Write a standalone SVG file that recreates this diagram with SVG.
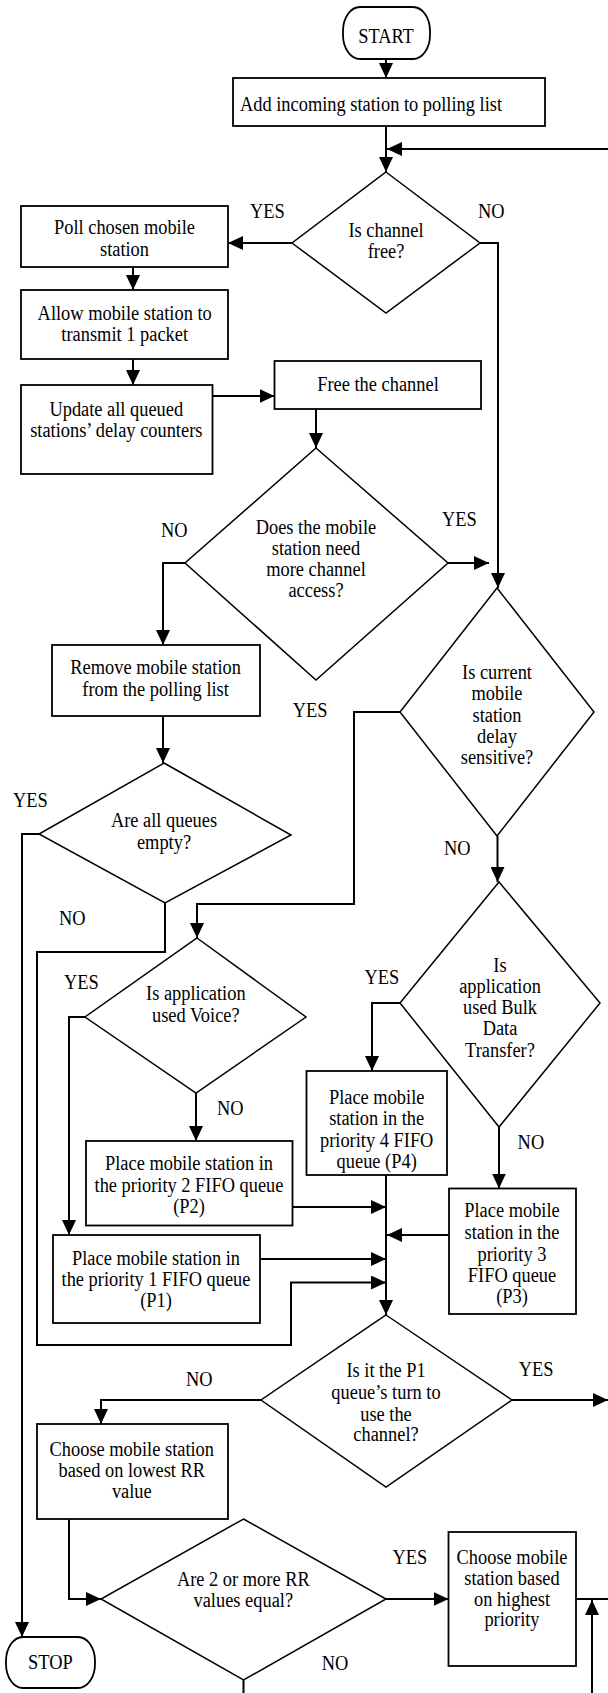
<svg xmlns="http://www.w3.org/2000/svg" width="608" height="1693" viewBox="0 0 608 1693">
<style>
.t,.l{font-family:"Liberation Serif","Times New Roman",serif;font-size:18.4px;fill:#000;transform:scaleY(1.1);transform-box:fill-box;transform-origin:center}
.t{text-anchor:middle}
.b{fill:#fff;stroke:#000;stroke-width:1.8}
.d{fill:#fff;stroke:#000;stroke-width:1.5}
.c{fill:none;stroke:#000;stroke-width:2}
.a{marker-end:url(#ah)}
</style>
<defs>
<marker id="ah" markerUnits="userSpaceOnUse" markerWidth="15" markerHeight="14" refX="15" refY="7" orient="auto">
<path d="M0,0 L15,7 L0,14 z" fill="#000"/>
</marker>
</defs>
<rect width="608" height="1693" fill="#fff"/>
<g id="connectors">
<path class="c a" d="M386,59 V78"/>
<path class="c a" d="M386,126 V172"/>
<path class="c a" d="M608,149 H387"/>
<path class="c a" d="M292,243 H228"/>
<path class="c a" d="M480,243 H498 V588"/>
<path class="c a" d="M133,267 V290"/>
<path class="c a" d="M133,359 V385"/>
<path class="c a" d="M212.5,396 H274.5"/>
<path class="c a" d="M316,409 V448"/>
<path class="c a" d="M185,563 H163 V645"/>
<path class="c a" d="M448,563 H489"/>
<path class="c a" d="M163,716 V763"/>
<path class="c a" d="M39,834 H22 V1637"/>
<path class="c a" d="M165,903 V952 H37 V1345 H291 V1282.5 H386"/>
<path class="c a" d="M400,712 H354 V904 H197 V938"/>
<path class="c a" d="M497.5,836 V882"/>
<path class="c a" d="M85,1017 H69 V1235"/>
<path class="c a" d="M196,1093 V1141"/>
<path class="c a" d="M400,1003 H372 V1071"/>
<path class="c a" d="M499,1127 V1188.5"/>
<path class="c a" d="M386,1175 V1315"/>
<path class="c a" d="M292.5,1207 H386"/>
<path class="c a" d="M449,1235 H387"/>
<path class="c a" d="M260,1259 H386"/>
<path class="c a" d="M512,1400 H608"/>
<path class="c a" d="M261,1400 H101 V1424"/>
<path class="c a" d="M69,1519 V1599 H101"/>
<path class="c a" d="M386,1599 H448.5"/>
<path class="c" d="M576,1599 H608"/>
<path class="c a" d="M592,1693 V1600"/>
<path class="c" d="M243.5,1680 V1693"/>
</g>
<g id="start">
<rect class="b" x="343" y="7" width="87" height="52" rx="17" ry="24"/>
<text class="t" x="386" y="42">START</text>
</g>
<g id="add">
<rect class="b" x="233" y="78" width="312" height="48"/>
<text class="l" x="240" y="110.5">Add incoming station to polling list</text>
</g>
<g id="channel-free">
<polygon class="d" points="386,172 480,243 386,313 292,243"/>
<text class="t" x="386" y="236">Is channel</text>
<text class="t" x="386" y="257.5">free?</text>
</g>
<g id="poll">
<rect class="b" x="21" y="206" width="207" height="61"/>
<text class="t" x="124.5" y="233.3">Poll chosen mobile</text>
<text class="t" x="124.5" y="255">station</text>
</g>
<g id="allow">
<rect class="b" x="21" y="290" width="207" height="69"/>
<text class="t" x="124.7" y="319">Allow mobile station to</text>
<text class="t" x="124.7" y="340.7">transmit 1 packet</text>
</g>
<g id="update">
<rect class="b" x="21" y="385" width="191.5" height="89"/>
<text class="t" x="116.3" y="415">Update all queued</text>
<text class="t" x="116.3" y="436.7">stations’ delay counters</text>
</g>
<g id="free">
<rect class="b" x="274.5" y="361" width="206.5" height="48"/>
<text class="t" x="378" y="390.7">Free the channel</text>
</g>
<g id="need-access">
<polygon class="d" points="316,448 448,563 316,680 185,563"/>
<text class="t" x="316" y="533.3">Does the mobile</text>
<text class="t" x="316" y="554.5">station need</text>
<text class="t" x="316" y="575.5">more channel</text>
<text class="t" x="316" y="596.7">access?</text>
</g>
<g id="remove">
<rect class="b" x="52" y="645" width="208" height="71"/>
<text class="t" x="155.6" y="673.3">Remove mobile station</text>
<text class="t" x="155.6" y="695">from the polling list</text>
</g>
<g id="queues-empty">
<polygon class="d" points="164,763 291,835 165,903 39,834"/>
<text class="t" x="164" y="826.7">Are all queues</text>
<text class="t" x="164" y="848.3">empty?</text>
</g>
<g id="delay-sensitive">
<polygon class="d" points="497,588 594,712 497,836 400,712"/>
<text class="t" x="497" y="678.3">Is current</text>
<text class="t" x="497" y="699.5">mobile</text>
<text class="t" x="497" y="721">station</text>
<text class="t" x="497" y="742.5">delay</text>
<text class="t" x="497" y="763.3">sensitive?</text>
</g>
<g id="voice">
<polygon class="d" points="197,938 306,1017 196,1093 85,1017"/>
<text class="t" x="195.8" y="999.3">Is application</text>
<text class="t" x="195.8" y="1021">used Voice?</text>
</g>
<g id="bulk">
<polygon class="d" points="499,882 600,1003 499,1127 400,1003"/>
<text class="t" x="500" y="971">Is</text>
<text class="t" x="500" y="992.5">application</text>
<text class="t" x="500" y="1013.5">used Bulk</text>
<text class="t" x="500" y="1034.5">Data</text>
<text class="t" x="500" y="1056">Transfer?</text>
</g>
<g id="p4">
<rect class="b" x="306.5" y="1071" width="140.5" height="104"/>
<text class="t" x="376.7" y="1103.3">Place mobile</text>
<text class="t" x="376.7" y="1124.5">station in the</text>
<text class="t" x="376.7" y="1146.5">priority 4 FIFO</text>
<text class="t" x="376.7" y="1167.5">queue (P4)</text>
</g>
<g id="p2">
<rect class="b" x="86" y="1141" width="206.5" height="84.5"/>
<text class="t" x="189" y="1169.3">Place mobile station in</text>
<text class="t" x="189" y="1191">the priority 2 FIFO queue</text>
<text class="t" x="189" y="1212.7">(P2)</text>
</g>
<g id="p1">
<rect class="b" x="53" y="1235" width="207" height="88"/>
<text class="t" x="156" y="1264">Place mobile station in</text>
<text class="t" x="156" y="1285.7">the priority 1 FIFO queue</text>
<text class="t" x="156" y="1306.7">(P1)</text>
</g>
<g id="p3">
<rect class="b" x="449" y="1188.5" width="127" height="125.5"/>
<text class="t" x="512" y="1216.7">Place mobile</text>
<text class="t" x="512" y="1238.3">station in the</text>
<text class="t" x="512" y="1260">priority 3</text>
<text class="t" x="512" y="1281">FIFO queue</text>
<text class="t" x="512" y="1302.7">(P3)</text>
</g>
<g id="p1-turn">
<polygon class="d" points="386,1315 512,1400 386,1487 261,1400"/>
<text class="t" x="386" y="1376.7">Is it the P1</text>
<text class="t" x="386" y="1398.3">queue’s turn to</text>
<text class="t" x="386" y="1420">use the</text>
<text class="t" x="386" y="1440.7">channel?</text>
</g>
<g id="lowest-rr">
<rect class="b" x="37" y="1424" width="191" height="95"/>
<text class="t" x="131.8" y="1455">Choose mobile station</text>
<text class="t" x="131.8" y="1476">based on lowest RR</text>
<text class="t" x="131.8" y="1497.3">value</text>
</g>
<g id="rr-equal">
<polygon class="d" points="243.5,1519 386,1599 243.5,1680 101,1599"/>
<text class="t" x="243.3" y="1585">Are 2 or more RR</text>
<text class="t" x="243.3" y="1606.7">values equal?</text>
</g>
<g id="highest-priority">
<rect class="b" x="448.5" y="1532" width="127.5" height="134"/>
<text class="t" x="512" y="1563.3">Choose mobile</text>
<text class="t" x="512" y="1584.3">station based</text>
<text class="t" x="512" y="1605">on highest</text>
<text class="t" x="512" y="1625.7">priority</text>
</g>
<g id="stop">
<rect class="b" x="6" y="1637" width="89" height="51" rx="17" ry="24"/>
<text class="t" x="50.4" y="1668">STOP</text>
</g>
<g id="labels">
<text class="l" x="250" y="217">YES</text>
<text class="l" x="478" y="217">NO</text>
<text class="l" x="161" y="536.7">NO</text>
<text class="l" x="442" y="525">YES</text>
<text class="l" x="292.7" y="716.7">YES</text>
<text class="l" x="13" y="806.5">YES</text>
<text class="l" x="444" y="854">NO</text>
<text class="l" x="59" y="924">NO</text>
<text class="l" x="64" y="988.3">YES</text>
<text class="l" x="364.5" y="983">YES</text>
<text class="l" x="217" y="1114">NO</text>
<text class="l" x="517.6" y="1148.3">NO</text>
<text class="l" x="186" y="1385.7">NO</text>
<text class="l" x="518.8" y="1375">YES</text>
<text class="l" x="392.4" y="1563.3">YES</text>
<text class="l" x="321.8" y="1669.3">NO</text>
</g>
</svg>
